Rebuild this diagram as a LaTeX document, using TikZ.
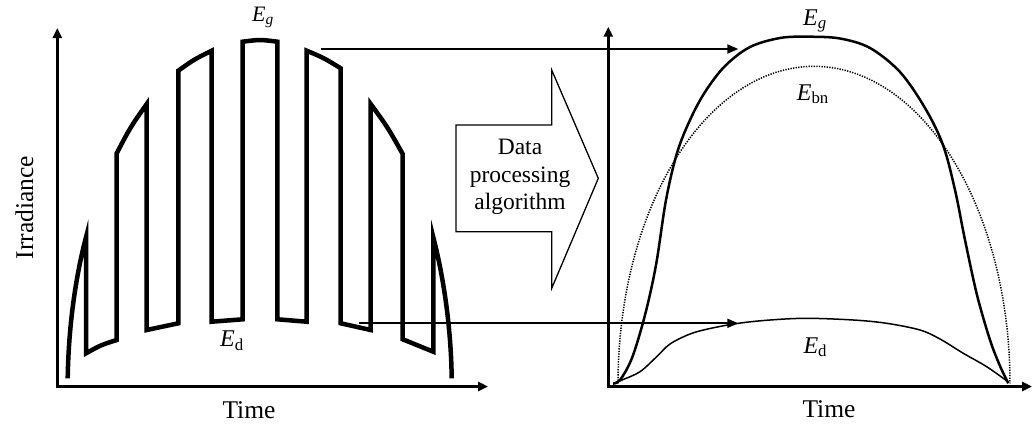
\documentclass[tikz,border=0pt]{standalone}
\usepackage{fontspec}
\setmainfont{Liberation Serif}
\usetikzlibrary{arrows.meta}
\begin{document}
\begin{tikzpicture}[x=1pt,y=-1pt,
  axis/.style={line width=3pt,{Triangle[length=10pt,width=9pt]}-{Triangle[length=10pt,width=9pt]}},
  conn/.style={line width=2pt,-{Triangle[length=11pt,width=9pt]}},
  pulse/.style={line width=4.5pt,line join=miter},
  label/.style={inner sep=0pt,anchor=base west,font=\fontsize{24}{28}\selectfont},
  axlabel/.style={inner sep=0pt,anchor=base,font=\fontsize{25.5}{30}\selectfont},
  bigarrow/.style={line width=1.3pt,line join=miter}]
\useasboundingbox (0,0) rectangle (1032,423);

% left axes
\coordinate (lytop) at (57.3,28);
\coordinate (lorig) at (57.3,386.5);
\coordinate (lxend) at (488,386.5);
\draw[axis] (lytop) -- (lorig) -- (lxend);

% right axes
\coordinate (rytop) at (608.3,26.7);
\coordinate (rorig) at (608.3,386.5);
\coordinate (rxend) at (1032,386.5);
\draw[axis] (rytop) -- (rorig) -- (rxend);

% pulsed irradiance signal
\draw[pulse] (67.7,378.3) .. controls (68.5,325) and (76,275) .. (86,237.3)
  -- (86,353.3) .. controls (101,345) .. (116.7,340)
  -- (116.7,153.3) .. controls (130.5,127) .. (146.7,104)
  -- (146.7,330) .. controls (162,326.3) .. (178.3,323.3)
  -- (178.3,70.7) .. controls (194,59.5) .. (211.7,50.7)
  -- (211.7,321.7) .. controls (227,320.2) .. (242.7,319.3)
  -- (242.7,41.7) .. controls (260,39.5) .. (277.3,41.7)
  -- (277.3,319.3) .. controls (292,320.2) .. (306.7,321.7)
  -- (306.7,50.7) .. controls (324,58) .. (340.7,68.3)
  -- (340.7,323.3) .. controls (356,326.3) .. (370.7,330)
  -- (370.7,104) .. controls (387.5,127) .. (402.7,154)
  -- (402.7,339.3) .. controls (418,345) .. (433.3,351.7)
  -- (433.3,237.3) .. controls (443,275) and (451,325) .. (451.7,378.3);

% processed curves
\draw[line width=2.5pt,line join=round] plot[smooth,tension=0.55] coordinates {
  (613,383.5) (620,380) (632,358) (645,315) (656,265) (666,200) (677,153)
  (690,120) (705,92) (725,66) (750,47) (780,38) (808,36.7) (840,38.5)
  (870,48) (900,72) (925,108) (943,145) (955,190) (965,240) (977,295)
  (990,340) (1000,366) (1008.3,383.3)};
\draw[line width=1.5pt,dash pattern=on 1.3pt off 1.3pt]
  plot[domain=180:0,samples=90] ({814+196*cos(\x)},{383.3-317*sin(\x)});
\draw[line width=1.5pt] plot[smooth,tension=0.55] coordinates {
  (613,383.5) (622,380) (640,371.7) (656.7,356.7) (670,344) (690,334)
  (710,328.5) (738.3,323.3) (770,320) (806.7,318.3) (853.3,320)
  (886.7,323.3) (920,330) (940,339) (963.3,353.3) (986.7,366.7) (1008.3,382)};

% big block arrow with text
\draw[bigarrow] (456,125) -- (551.7,125) -- (551.7,70) -- (598.3,178.3)
  -- (551.7,288.3) -- (551.7,231.7) -- (456,231.7) -- cycle;
\node[align=center,inner sep=0pt,font=\fontsize{23.5}{27.5}\selectfont] (algo) at (520,177)
  {Data\\processing\\algorithm};

% connectors
\coordinate (gs) at (321,49);
\coordinate (ge) at (738.3,49);
\coordinate (ds) at (359.3,323.3);
\coordinate (de) at (738.3,323.3);
\draw[conn] (gs) -- (ge);
\draw[conn] (ds) -- (de);

% labels
\node[label,font=\fontsize{22}{26}\selectfont] (egl) at (252,21.7) {\textit{E}\textsubscript{\textit{g}}};
\node[label] (edl) at (220,346.7) {\textit{E}\textsubscript{d}};
\node[label] (egr) at (803,25) {\textit{E}\textsubscript{\textit{g}}};
\node[label] (ebn) at (796.7,100) {\textit{E}\textsubscript{bn}};
\node[label] (edr) at (803.3,353) {\textit{E}\textsubscript{d}};
\node[axlabel] (tl) at (249,418) {Time};
\node[axlabel] (tr) at (829,417) {Time};
\node[axlabel,rotate=90] (irr) at (33,207.5) {Irradiance};
\end{tikzpicture}
\end{document}
